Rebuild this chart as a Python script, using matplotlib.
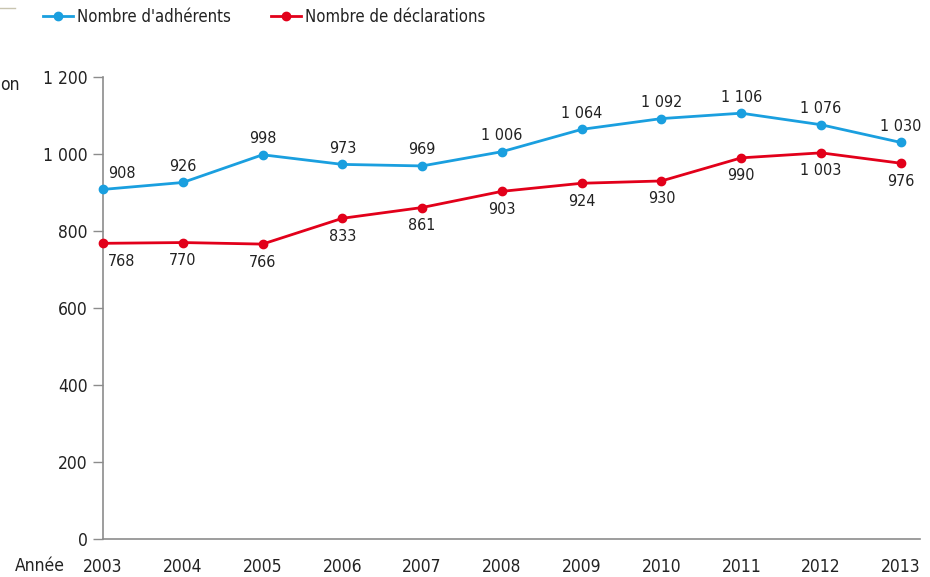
import matplotlib.pyplot as plt
from matplotlib.lines import Line2D

# Data
years = [2003, 2004, 2005, 2006, 2007, 2008, 2009, 2010, 2011, 2012, 2013]
adherents = [908, 926, 998, 973, 969, 1006, 1064, 1092, 1106, 1076, 1030]
declarations = [768, 770, 766, 833, 861, 903, 924, 930, 990, 1003, 976]
y_ticks = [0, 200, 400, 600, 800, 1000, 1200]

BLUE = "#1a9fdf"
RED = "#e2001a"
GREY = "#8c8c8c"
TEXT = "#222222"

plt.rcParams['font.family'] = ['DejaVu Sans']
plt.rcParams['font.stretch'] = 'condensed'


def fmt(v):
    # french thousands separator
    return f"{v:,}".replace(",", " ")


fig = plt.figure(figsize=(9.3, 5.77), dpi=100)
ax = fig.add_axes([103 / 930, 38 / 577, 817 / 930, 462 / 577])

ax.plot(years, adherents, color=BLUE, lw=2, marker='o', ms=6, clip_on=False, zorder=3)
ax.plot(years, declarations, color=RED, lw=2, marker='o', ms=6, clip_on=False, zorder=3)

# value labels
for i, (x, v) in enumerate(zip(years, adherents)):
    dx = 19 if i == 0 else 0
    ax.annotate(fmt(v), (x, v), xytext=(dx, 16), textcoords='offset pixels',
                ha='center', va='center', fontsize=11.5, color=TEXT)
for i, (x, v) in enumerate(zip(years, declarations)):
    dx = 19 if i == 0 else 0
    ax.annotate(fmt(v), (x, v), xytext=(dx, -18), textcoords='offset pixels',
                ha='center', va='center', fontsize=11.5, color=TEXT)

ax.set_xlim(2003, 2013.24)
ax.set_ylim(0, 1200)
ax.set_yticks(y_ticks)
ax.set_yticklabels([fmt(t) for t in y_ticks])
ax.set_xticks(years)
ax.set_xticklabels([str(y) for y in years])

for s in ['top', 'right']:
    ax.spines[s].set_visible(False)
for s in ['left', 'bottom']:
    ax.spines[s].set_color(GREY)
    ax.spines[s].set_linewidth(1.2)

ax.tick_params(axis='y', length=7, width=1, color=GREY, labelsize=12.5, labelcolor=TEXT, pad=4)
ax.tick_params(axis='x', length=0, labelsize=12.5, labelcolor=TEXT, pad=14)

# "Année" label on the left of the x ticks
fig.text(65 / 930, 1 - 566 / 577, "Année", ha='right', va='center', fontsize=12.5, color=TEXT)

# cropped leftovers of the original page
fig.text(0, 1 - 85 / 577, "on", ha='left', va='center', fontsize=12.5, color=TEXT)
fig.add_artist(Line2D([0, 15 / 930], [1 - 8 / 577, 1 - 8 / 577], color="#c8c4b0", lw=1))

# legend
handles = [
    Line2D([], [], color=BLUE, lw=2, marker='o', ms=6),
    Line2D([], [], color=RED, lw=2, marker='o', ms=6),
]
fig.legend(handles, ["Nombre d'adhérents", "Nombre de déclarations"],
           loc='center left', bbox_to_anchor=(28 / 930, 1 - 17 / 577), ncol=2,
           frameon=False, fontsize=12, handlelength=1.8, handletextpad=0.25,
           columnspacing=2.4, labelcolor=TEXT)

fig.savefig("out.png", dpi=100)
